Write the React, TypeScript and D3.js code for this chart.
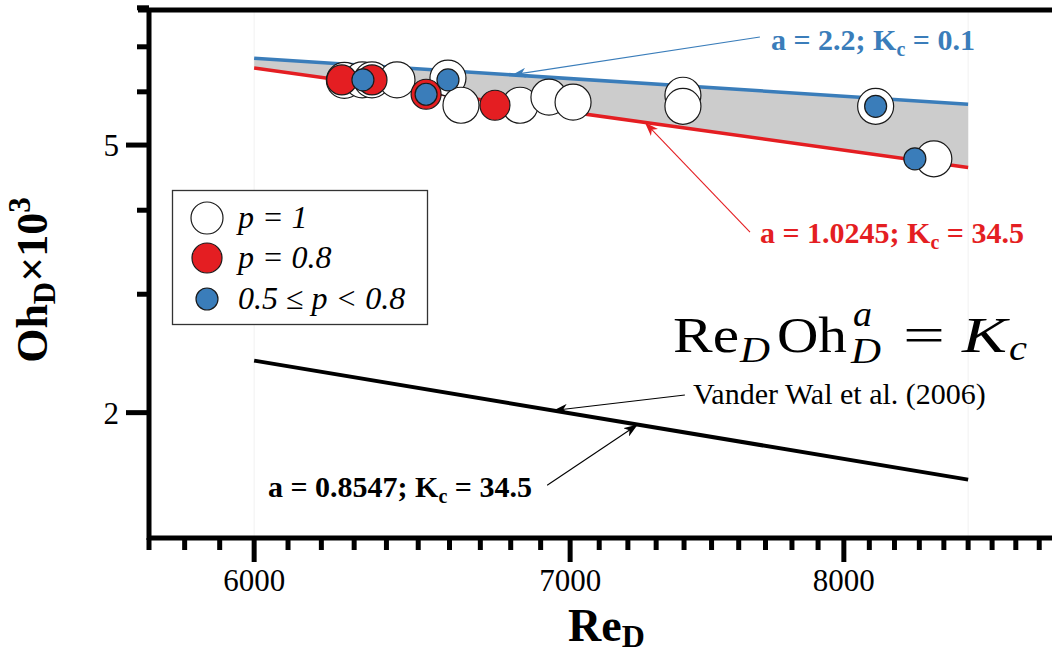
import React, { useEffect, useRef } from "react";
import * as d3 from "d3";

// values: Re_D and Oh_D x 10^3
const whiteRe = [6270, 6325, 6355, 6433, 6595, 6637, 6831, 6928, 7010, 7396, 7396, 8125, 8359];
const whiteOh = [6.24, 6.25, 6.25, 6.25, 6.29, 5.73, 5.73, 5.89, 5.79, 5.93, 5.71, 5.71, 4.77];
const redRe = [6262, 6355, 6525, 6748];
const redOh = [6.25, 6.25, 5.95, 5.73];
const blueRe = [6327, 6525, 6595, 8125, 8282];
const blueOh = [6.25, 5.95, 6.25, 5.71, 4.77];

// model lines Re*Oh^a = Kc, end points
const lineRe = [6000, 8500];
const blueLineOh = [6.73, 5.75];
const redLineOh = [6.51, 4.63];
const blackLineOh = [2.39, 1.59];

const xMajorTicks = [6000, 7000, 8000];
const yMajorTicks = [2, 5];
const yMinorTicks = [3, 4, 6, 7, 8];

const BLUE = "#3a7dba";
const RED = "#e41e22";
const SERIF = "'Liberation Serif', 'DejaVu Serif', serif";

function App() {
  const svgRef = useRef(null);

  useEffect(() => {
    const svg = d3.select(svgRef.current);
    svg.selectAll("*").remove();

    const x = d3.scaleLog().domain([5700, 8855]).range([149, 1052]);
    const y = d3.scaleLog().domain([1.302, 7.94]).range([538, 10]);

    const onLine = (re: number, ohs: number[]) => {
      const t = Math.log(re / lineRe[0]) / Math.log(lineRe[1] / lineRe[0]);
      return Math.exp(Math.log(ohs[0]) + t * (Math.log(ohs[1]) - Math.log(ohs[0])));
    };

    const defs = svg.append("defs");
    [["blue", BLUE], ["red", RED], ["black", "#000"]].forEach(([id, c]) => {
      defs
        .append("marker")
        .attr("id", "arrow-" + id)
        .attr("viewBox", "0 0 14 10")
        .attr("refX", 14)
        .attr("refY", 5)
        .attr("markerWidth", 14)
        .attr("markerHeight", 10)
        .attr("markerUnits", "userSpaceOnUse")
        .attr("orient", "auto")
        .append("path")
        .attr("d", "M0,0 L14,5 L0,10 L4,5 Z")
        .attr("fill", c);
    });

    // faint guides at the ends of the model lines
    lineRe.forEach((re) => {
      svg
        .append("line")
        .attr("x1", x(re))
        .attr("x2", x(re))
        .attr("y1", 12)
        .attr("y2", 536)
        .attr("stroke", "#f1f1f1")
        .attr("stroke-width", 1);
    });

    // shaded band between red and blue lines
    const band = d3
      .area<number>()
      .x((d) => x(d))
      .y0((d, i) => y(redLineOh[i]))
      .y1((d, i) => y(blueLineOh[i]));
    svg.append("path").attr("d", band(lineRe)).attr("fill", "#cccccc");

    const line = (ohs: number[]) =>
      d3
        .line<number>()
        .x((d) => x(d))
        .y((d, i) => y(ohs[i]))(lineRe);

    svg.append("path").attr("d", line(blueLineOh)).attr("stroke", BLUE).attr("stroke-width", 3.5).attr("fill", "none");
    svg.append("path").attr("d", line(redLineOh)).attr("stroke", RED).attr("stroke-width", 3.5).attr("fill", "none");
    svg.append("path").attr("d", line(blackLineOh)).attr("stroke", "#000").attr("stroke-width", 4).attr("fill", "none");

    // points
    const dots = (res: number[], ohs: number[], r: number, fill: string) => {
      svg
        .append("g")
        .selectAll("circle")
        .data(res)
        .enter()
        .append("circle")
        .attr("cx", (d) => x(d))
        .attr("cy", (d, i) => y(ohs[i]))
        .attr("r", r)
        .attr("fill", fill)
        .attr("stroke", "#1a1a1a")
        .attr("stroke-width", 1.2);
    };
    dots(whiteRe, whiteOh, 18, "#fff");
    dots(redRe, redOh, 15, RED);
    dots(blueRe, blueOh, 11, BLUE);

    // arrows
    const arrow = (tipRe: number, ohs: number[], tailRe: number, tailOh: number, color: string, id: string) => {
      svg
        .append("line")
        .attr("x1", x(tailRe))
        .attr("y1", y(tailOh))
        .attr("x2", x(tipRe))
        .attr("y2", y(onLine(tipRe, ohs)))
        .attr("stroke", color)
        .attr("stroke-width", 1.1)
        .attr("marker-end", `url(#arrow-${id})`);
    };
    arrow(6804, blueLineOh, 7679, 7.24, BLUE, "blue");
    arrow(7260, redLineOh, 7642, 3.71, RED, "red");
    arrow(6943, blackLineOh, 7403, 2.125, "#000", "black");
    arrow(7235, blackLineOh, 6922, 1.56, "#000", "black");

    // bold labels with subscript c
    const kLabel = (tx: number, ty: number, a: string, k: string, color: string) => {
      const t = svg
        .append("text")
        .attr("x", tx)
        .attr("y", ty)
        .attr("font-family", SERIF)
        .attr("font-weight", "bold")
        .attr("font-size", 30)
        .attr("fill", color);
      t.append("tspan").text(`a = ${a}; K`);
      t.append("tspan").attr("font-size", 20).attr("dy", 6).text("c");
      t.append("tspan").attr("dy", -6).text(` = ${k}`);
    };
    kLabel(771, 50, "2.2", "0.1", BLUE);
    kLabel(760, 243, "1.0245", "34.5", RED);
    kLabel(268, 497, "0.8547", "34.5", "#000");

    svg
      .append("text")
      .attr("x", 693)
      .attr("y", 404)
      .attr("font-family", SERIF)
      .attr("font-size", 30)
      .text("Vander Wal et al. (2006)");

    // formula Re_D Oh_D^a = K_c
    const f = svg.append("g").attr("font-family", SERIF).attr("fill", "#000");
    const piece = (tx: number, ty: number, s: string, size: number, italic: boolean, w: number) =>
      f
        .append("text")
        .attr("x", tx)
        .attr("y", ty)
        .attr("font-size", size)
        .attr("font-style", italic ? "italic" : "normal")
        .attr("textLength", w)
        .attr("lengthAdjust", "spacingAndGlyphs")
        .text(s);
    piece(673, 352, "Re", 50, false, 66);
    piece(740, 362, "D", 36, true, 30);
    piece(777, 352, "Oh", 50, false, 70);
    piece(853, 326, "a", 36, true, 19);
    piece(851, 363, "D", 36, true, 30);
    piece(903, 352, "=", 50, false, 42);
    piece(962, 352, "K", 50, true, 45);
    piece(1009, 360, "c", 36, true, 18);

    // legend
    const lg = svg.append("g");
    lg.append("rect")
      .attr("x", 172.5)
      .attr("y", 190.5)
      .attr("width", 255)
      .attr("height", 134)
      .attr("fill", "#fff")
      .attr("stroke", "#333")
      .attr("stroke-width", 1.3);
    const legendItems = [
      { label: "p = 1", r: 16, fill: "#fff", cy: 218 },
      { label: "p = 0.8", r: 15, fill: RED, cy: 258 },
      { label: "0.5 ≤ p < 0.8", r: 11, fill: BLUE, cy: 299 },
    ];
    legendItems.forEach((it) => {
      lg.append("circle")
        .attr("cx", 207)
        .attr("cy", it.cy)
        .attr("r", it.r)
        .attr("fill", it.fill)
        .attr("stroke", "#1a1a1a")
        .attr("stroke-width", 1.2);
      lg.append("text")
        .attr("x", 238)
        .attr("y", it.cy + 10)
        .attr("font-family", SERIF)
        .attr("font-style", "italic")
        .attr("font-size", 32)
        .text(it.label);
    });

    // axes frame
    svg.append("line").attr("x1", 138).attr("x2", 1052).attr("y1", 10).attr("y2", 10).attr("stroke", "#000").attr("stroke-width", 5);
    svg.append("line").attr("x1", 149).attr("x2", 149).attr("y1", 8).attr("y2", 540).attr("stroke", "#000").attr("stroke-width", 5);
    svg.append("line").attr("x1", 147).attr("x2", 1052).attr("y1", 538).attr("y2", 538).attr("stroke", "#000").attr("stroke-width", 5);

    // x ticks
    const xMinor = d3.range(5700, 8900, 100).filter((v) => !xMajorTicks.includes(v));
    svg
      .append("g")
      .selectAll("line")
      .data(xMinor)
      .enter()
      .append("line")
      .attr("x1", (d) => x(d))
      .attr("x2", (d) => x(d))
      .attr("y1", 538)
      .attr("y2", 550)
      .attr("stroke", "#000")
      .attr("stroke-width", 5);
    svg
      .append("g")
      .selectAll("line")
      .data(xMajorTicks)
      .enter()
      .append("line")
      .attr("x1", (d) => x(d))
      .attr("x2", (d) => x(d))
      .attr("y1", 538)
      .attr("y2", 562)
      .attr("stroke", "#000")
      .attr("stroke-width", 5);
    svg
      .append("g")
      .selectAll("text")
      .data(xMajorTicks)
      .enter()
      .append("text")
      .attr("x", (d) => x(d))
      .attr("y", 591)
      .attr("text-anchor", "middle")
      .attr("font-family", SERIF)
      .attr("font-size", 31)
      .text((d) => d);

    // y ticks
    svg
      .append("g")
      .selectAll("line")
      .data(yMinorTicks)
      .enter()
      .append("line")
      .attr("x1", 137)
      .attr("x2", 149)
      .attr("y1", (d) => y(d))
      .attr("y2", (d) => y(d))
      .attr("stroke", "#000")
      .attr("stroke-width", 5);
    svg
      .append("g")
      .selectAll("line")
      .data(yMajorTicks)
      .enter()
      .append("line")
      .attr("x1", 126)
      .attr("x2", 149)
      .attr("y1", (d) => y(d))
      .attr("y2", (d) => y(d))
      .attr("stroke", "#000")
      .attr("stroke-width", 5);
    svg
      .append("g")
      .selectAll("text")
      .data(yMajorTicks)
      .enter()
      .append("text")
      .attr("x", 119)
      .attr("y", (d) => y(d) + 11)
      .attr("text-anchor", "end")
      .attr("font-family", SERIF)
      .attr("font-size", 31)
      .text((d) => d);

    // axis titles
    const xt = svg
      .append("text")
      .attr("x", 568)
      .attr("y", 641)
      .attr("font-family", SERIF)
      .attr("font-weight", "bold")
      .attr("font-size", 46);
    xt.append("tspan").text("Re");
    xt.append("tspan").attr("font-size", 32).attr("dy", 6).text("D");

    const yt = svg
      .append("text")
      .attr("transform", "translate(47, 280) rotate(-90)")
      .attr("text-anchor", "middle")
      .attr("font-family", SERIF)
      .attr("font-weight", "bold")
      .attr("font-size", 44);
    yt.append("tspan").text("Oh");
    yt.append("tspan").attr("font-size", 31).attr("dy", 8).text("D");
    yt.append("tspan").attr("dy", -8).text("×10");
    yt.append("tspan").attr("font-size", 31).attr("dy", -17).text("3");
  }, []);

  return (
    <div>
      <svg
        ref={svgRef}
        width={1052}
        height={657}
        style={{ position: "absolute", left: 0, top: 0, background: "#fff" }}
      ></svg>
    </div>
  );
}

export default App;
